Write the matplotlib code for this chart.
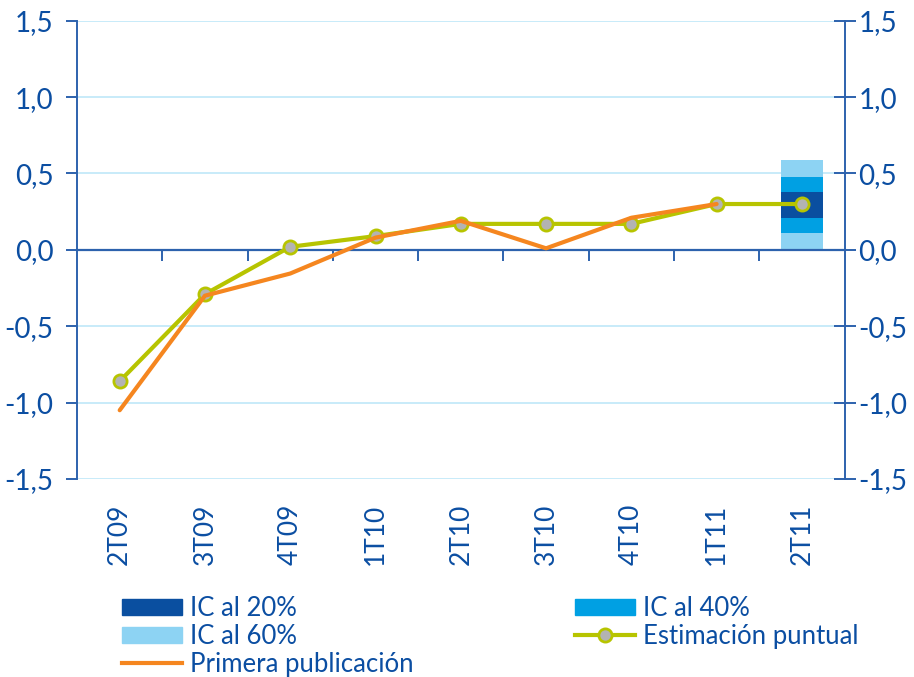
import matplotlib
matplotlib.use("Agg")
import matplotlib.pyplot as plt
from matplotlib.patches import Patch
from matplotlib.lines import Line2D
from matplotlib.ticker import FuncFormatter

plt.rcParams['font.family'] = ['Lato', 'DejaVu Sans']

categories = ["2T09", "3T09", "4T09", "1T10", "2T10", "3T10", "4T10", "1T11", "2T11"]
estimacion = [-0.86, -0.29, 0.02, 0.09, 0.17, 0.17, 0.17, 0.30, 0.30]
primera = [-1.05, -0.30, -0.155, 0.08, 0.19, 0.01, 0.21, 0.30]
# confidence bands for the last quarter (2T11)
ic60 = (0.0, 0.59)
ic40 = (0.11, 0.477)
ic20 = (0.21, 0.378)
yticks = [-1.5, -1.0, -0.5, 0.0, 0.5, 1.0, 1.5]

TXT = "#0b4ea2"
AXC = "#2d62ad"
GRID = "#bfe7f8"
C_DARK = "#0a4fa0"
C_MID = "#00a0e3"
C_LIGHT = "#8dd3f3"
C_EST = "#b7c400"
C_PRI = "#f5861f"

fig = plt.figure(figsize=(9.14, 6.77), dpi=100)
ax = fig.add_axes([0.0843, 0.2925, 0.924 - 0.0843, 0.9694 - 0.2925])

n = len(categories)
xs = list(range(n))
ax.set_xlim(-0.5, n - 0.5)
ax.set_ylim(-1.5, 1.5)

# gridlines
ax.set_yticks(yticks)
ax.yaxis.grid(True, color=GRID, lw=1.2, zorder=0)
ax.set_axisbelow(True)

# bars for confidence intervals at last category
last = n - 1
ax.bar(last, ic60[1] - ic60[0], bottom=ic60[0], width=0.5, color=C_LIGHT, zorder=2)
ax.bar(last, ic40[1] - ic40[0], bottom=ic40[0], width=0.5, color=C_MID, zorder=2)
ax.bar(last, ic20[1] - ic20[0], bottom=ic20[0], width=0.5, color=C_DARK, zorder=2)

LW = 3.0
ax.plot(xs, estimacion, color=C_EST, lw=LW, marker='o', ms=9.5,
        mfc='#b3b3b3', mec=C_EST, mew=2.0, zorder=4, solid_capstyle='butt')
ax.plot(xs[:len(primera)], primera, color=C_PRI, lw=LW, zorder=5, solid_capstyle='round')

# spines
ax.spines['top'].set_visible(False)
ax.spines['right'].set_visible(False)
ax.spines['bottom'].set_position(('data', 0))
ax.spines['bottom'].set_color(AXC)
ax.spines['bottom'].set_linewidth(1.6)
ax.spines['bottom'].set_zorder(3)
ax.spines['left'].set_color(AXC)
ax.spines['left'].set_linewidth(1.4)

bounds = [i + 0.5 for i in range(n - 1)]
ax.set_xticks(bounds)
ax.set_xticklabels([])
ax.tick_params(axis='x', direction='out', length=8, width=1.4, color=AXC)

fmt = FuncFormatter(lambda v, p: f"{v:.1f}".replace('.', ','))
ax.yaxis.set_major_formatter(fmt)
ax.tick_params(axis='y', direction='out', length=8, width=1.4, color=AXC,
               labelcolor=TXT, labelsize=20, pad=9)

# right axis
axr = ax.twinx()
axr.set_ylim(-1.5, 1.5)
axr.set_yticks(yticks)
axr.yaxis.set_major_formatter(fmt)
for s in ['top', 'left', 'bottom']:
    axr.spines[s].set_visible(False)
axr.spines['right'].set_color(AXC)
axr.spines['right'].set_linewidth(1.4)
axr.tick_params(axis='y', direction='inout', length=16, width=1.4, color=AXC,
                labelcolor=TXT, labelsize=20, pad=2)

# category labels
sec = ax.secondary_xaxis(0)
sec.set_xticks(xs)
sec.set_xticklabels(categories, rotation=90, va='top', ha='center')
sec.tick_params(axis='x', length=0, pad=18, labelcolor=TXT, labelsize=19)
sec.spines['bottom'].set_visible(False)

# legends
h20 = Patch(color=C_DARK)
h40 = Patch(color=C_MID)
h60 = Patch(color=C_LIGHT)
hest = Line2D([], [], color=C_EST, lw=LW, marker='o', ms=9.5, mfc='#b3b3b3', mec=C_EST, mew=2.0)
hpri = Line2D([], [], color=C_PRI, lw=LW)

common = dict(frameon=False, fontsize=18.5, handlelength=2.35, handleheight=0.62,
              handletextpad=0.3, labelspacing=0.12, borderpad=0, borderaxespad=0,
              labelcolor=TXT)
leg1 = fig.legend([h20, h60, hpri], ["IC al 20%", "IC al 60%", "Primera publicación"],
                  loc='upper left', bbox_to_anchor=(122 / 914, 1 - 596 / 677), **common)
leg2 = fig.legend([h40, hest], ["IC al 40%", "Estimación puntual"],
                  loc='upper left', bbox_to_anchor=(575 / 914, 1 - 596 / 677), **common)

fig.savefig("out.png", dpi=100)
